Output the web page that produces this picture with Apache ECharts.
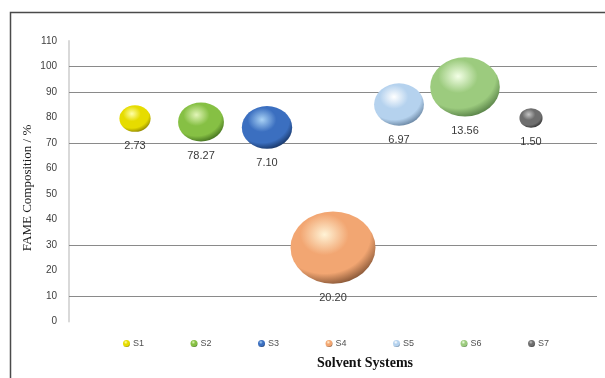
<!DOCTYPE html>
<html>
<head>
<meta charset="utf-8">
<script src="https://cdn.jsdelivr.net/npm/echarts@6/dist/echarts.min.js"></script>
<style>
  html, body { margin: 0; padding: 0; background: #fff; }
  #chart { width: 605px; height: 378px; }
</style>
</head>
<body>
<div id="chart"></div>
<script>
// Solvent systems and their FAME composition (%) with bubble size values
const systems = ['S1', 'S2', 'S3', 'S4', 'S5', 'S6', 'S7'];
const xPos = [1, 2, 3, 4, 5, 6, 7];
const fameComposition = [79.6, 78.27, 76.1, 29.0, 85.1, 92.0, 79.8];
const bubbleSize = [2.73, 5.9, 7.10, 20.20, 6.97, 13.56, 1.50];
// which value each bubble label shows: 2 = bubble size, 1 = composition
const labelDim = [2, 1, 2, 2, 2, 2, 2];
const yTicks = { min: 0, max: 110, interval: 10 };
const gridValues = [10, 30, 70, 90, 100];

// sphere shading: [highlight, base, shadow]
const palette = [
  ['#ffffa8', '#e6dc00', '#7f7600'],
  ['#e2f5b8', '#86c044', '#355f17'],
  ['#a9d2f5', '#3b6fc0', '#0f2750'],
  ['#fff3d6', '#f2a672', '#6e4328'],
  ['#ffffff', '#b5d2ee', '#56728f'],
  ['#f3ffe6', '#9ccb7e', '#476f3a'],
  ['#c4c4c4', '#6e6e6e', '#222222']
];

function sphere(c) {
  return {
    type: 'radial', x: 0.4, y: 0.32, r: 0.75,
    colorStops: [
      { offset: 0, color: c[0] },
      { offset: 0.38, color: c[1] },
      { offset: 0.72, color: c[1] },
      { offset: 1, color: c[2] }
    ]
  };
}

const K = 18.9;      // pixel diameter per sqrt(size unit)
const SQUASH = 0.85; // vertical aspect of the bubbles

const series = systems.map((name, i) => ({
  name: name,
  type: 'scatter',
  z: 3,
  data: [[xPos[i], fameComposition[i], bubbleSize[i]]],
  symbol: 'circle',
  symbolSize: v => {
    const d = K * Math.sqrt(v[2]);
    return [d, d * SQUASH];
  },
  itemStyle: { color: sphere(palette[i]), opacity: 1 },
  label: {
    show: true,
    position: 'bottom',
    distance: 9,
    color: '#3a3a3a',
    fontSize: 11,
    fontFamily: 'Liberation Sans, Arial, sans-serif',
    formatter: p => p.value[labelDim[i]].toFixed(2)
  },
  emphasis: { disabled: true }
}));

// horizontal reference lines, kept beneath the bubbles
series.unshift({
  name: 'grid',
  type: 'line',
  z: 1,
  data: [],
  silent: true,
  markLine: {
    z: 1,
    silent: true,
    symbol: 'none',
    label: { show: false },
    lineStyle: { color: '#8a8a8a', width: 1, type: 'solid' },
    data: gridValues.map(v => ({ yAxis: v }))
  }
});

const chart = echarts.init(document.getElementById('chart'), null, { renderer: 'canvas' });
chart.setOption({
  animation: false,
  backgroundColor: '#ffffff',
  grid: { left: 69, right: 8, top: 41, bottom: 56.5 },
  xAxis: {
    type: 'value', min: 0, max: 8,
    show: false
  },
  yAxis: {
    type: 'value',
    min: yTicks.min, max: yTicks.max, interval: yTicks.interval,
    axisLine: { show: true, lineStyle: { color: '#d9d9d9', width: 2 } },
    axisTick: { show: false },
    splitLine: { show: false },
    axisLabel: {
      color: '#404040', fontSize: 10, margin: 12,
      fontFamily: 'Liberation Sans, Arial, sans-serif'
    }
  },
  legend: {
    data: systems,
    left: 118,
    top: 334,
    itemWidth: 7,
    itemHeight: 7,
    itemGap: 46.5,
    icon: 'circle',
    textStyle: {
      color: '#505050', fontSize: 9,
      fontFamily: 'Liberation Sans, Arial, sans-serif',
      padding: [0, 0, 0, -2]
    }
  },
  graphic: [
    {
      type: 'polyline', silent: true,
      shape: { points: [[10.5, 400], [10.5, 12.5], [610, 12.5]] },
      style: { stroke: '#4a4a4a', lineWidth: 1.5, fill: null }
    },
    {
      type: 'text', silent: true,
      x: 28, y: 188, rotation: Math.PI / 2,
      style: {
        text: 'FAME Composition / %',
        x: 0, y: 0,
        textAlign: 'center', textVerticalAlign: 'middle',
        fill: '#1a1a1a', font: '13px "Liberation Serif", "Times New Roman", serif'
      }
    },
    {
      type: 'text', silent: true,
      x: 365, y: 363,
      style: {
        text: 'Solvent Systems',
        x: 0, y: 0,
        textAlign: 'center', textVerticalAlign: 'middle',
        fill: '#111', font: 'bold 14px "Liberation Serif", "Times New Roman", serif'
      }
    }
  ],
  series: series
});
</script>
</body>
</html>
